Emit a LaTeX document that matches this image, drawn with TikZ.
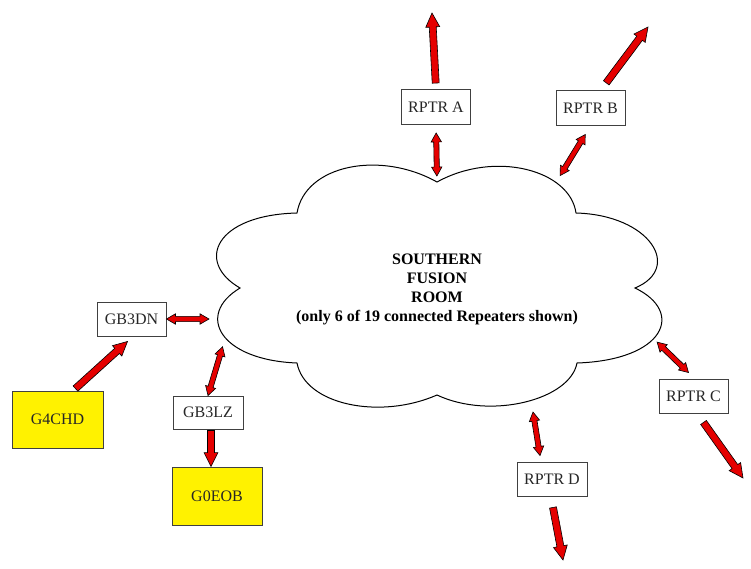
\documentclass[tikz,border=0pt]{standalone}
\usepackage{fontspec}
\setmainfont{Liberation Serif}
\usetikzlibrary{calc}

% fat outlined arrows: \onearrow{from}{to}, \twoarrow{end}{end}
\newcommand{\onearrow}[2]{%
  \path #1 coordinate (fa s) #2 coordinate (fa e);
  \coordinate (fa h) at ($(fa e)!14pt!(fa s)$);
  \filldraw[fatarrow] ($(fa s)!3.5pt!90:(fa e)$) -- ($(fa h)!3.5pt!-90:(fa s)$)
    -- ($(fa h)!7pt!-90:(fa s)$) -- (fa e) -- ($(fa h)!7pt!90:(fa s)$)
    -- ($(fa h)!3.5pt!90:(fa s)$) -- ($(fa s)!3.5pt!-90:(fa e)$) -- cycle;}
\newcommand{\twoarrow}[2]{%
  \path #1 coordinate (fa s) #2 coordinate (fa e);
  \coordinate (fa h1) at ($(fa s)!9pt!(fa e)$);
  \coordinate (fa h2) at ($(fa e)!9pt!(fa s)$);
  \filldraw[fatarrow] (fa s) -- ($(fa h1)!5.2pt!-90:(fa s)$) -- ($(fa h1)!2.6pt!-90:(fa s)$)
    -- ($(fa h2)!2.6pt!-90:(fa s)$) -- ($(fa h2)!5.2pt!-90:(fa s)$) -- (fa e)
    -- ($(fa h2)!5.2pt!90:(fa s)$) -- ($(fa h2)!2.6pt!90:(fa s)$)
    -- ($(fa h1)!2.6pt!90:(fa s)$) -- ($(fa h1)!5.2pt!90:(fa s)$) -- cycle;}

\begin{document}
\begin{tikzpicture}[x=1pt, y=-1pt,
    rptr/.style={draw=black!75, line width=0.9pt, fill=white, minimum width=69pt,
      minimum height=35pt, inner sep=0pt, font=\fontsize{16}{19}\selectfont, text=black!85},
    station/.style={rptr, fill=yellow, minimum width=91pt, minimum height=57pt},
    fatarrow/.style={fill=red!90!black, draw=black, line width=0.6pt, line join=miter},
    roomtext/.style={align=center, font=\fontsize{16}{19}\selectfont\bfseries}
]
\useasboundingbox (0,0) rectangle (751,568);

% Cloud
\coordinate (c1) at (437,182);
\coordinate (c2) at (576,213);
\coordinate (c3) at (635,288);
\coordinate (c4) at (577,363);
\coordinate (c5) at (437,395);
\coordinate (c6) at (297,363);
\coordinate (c7) at (240,288);
\coordinate (c8) at (297,213);
\draw[line width=1pt, line join=miter] (c1) .. controls (495,150) and (570,170) .. (c2)
  .. controls (650,215) and (683,268) .. (c3)
  .. controls (685,312) and (665,360) .. (c4)
  .. controls (570,400) and (490,420) .. (c5)
  .. controls (380,420) and (305,405) .. (c6)
  .. controls (220,360) and (195,315) .. (c7)
  .. controls (195,262) and (215,215) .. (c8)
  .. controls (305,165) and (380,150) .. (c1) -- cycle;
\node[roomtext] (room) at (437,289) {SOUTHERN\\FUSION\\ROOM\\(only 6 of 19 connected Repeaters shown)};

% points on the cloud edge
\coordinate (cb) at (558,179);
\coordinate (cl) at (209,319);
\coordinate (cz) at (224,342);
\coordinate (cc) at (655,340);
\coordinate (cd) at (532,403);

% Repeaters and stations
\node[rptr] (rptra) at (436,107) {RPTR A};
\node[rptr] (rptrb) at (590.5,108) {RPTR B};
\node[rptr, minimum height=34pt] (rptrc) at (693.5,396) {RPTR C};
\node[rptr, minimum height=34pt, minimum width=70pt] (rptrd) at (552,479) {RPTR D};
\node[rptr, minimum height=34pt] (gb3dn) at (131.5,319) {GB3DN};
\node[rptr, minimum height=33pt, minimum width=70pt] (gb3lz) at (208,412.5) {GB3LZ};
\node[station] (g4chd) at (57.5,419.5) {G4CHD};
\node[station, minimum width=90pt, minimum height=58pt] (g0eob) at (217,496) {G0EOB};

% free ends
\coordinate (outa) at (432,13);
\coordinate (outb) at (648,27);
\coordinate (outc) at (743,478);
\coordinate (outd) at (563,560);

% Links
\onearrow{($(rptra.north)!6pt!(outa)$)}{(outa)}
\onearrow{($(rptrb.60)!9pt!(outb)$)}{(outb)}
\twoarrow{($(rptra.south)!8pt!(c1)$)}{($(c1)!6pt!(rptra.south)$)}
\twoarrow{($(rptrb.south)!10pt!(cb)$)}{($(cb)!4pt!(rptrb.south)$)}
\twoarrow{(gb3dn.east)}{(cl)}
\onearrow{($(g4chd.north)+(18,-2)$)}{($(gb3dn.south)+(-4,5)$)}
\twoarrow{($(cz)!5pt!(gb3lz.north)$)}{(gb3lz.north)}
\onearrow{($(gb3lz.south)+(3,1)$)}{($(g0eob.north)+(-6,0)$)}
\twoarrow{($(cc)!3pt!(rptrc.north)$)}{($(rptrc.north)+(-5,-6)$)}
\onearrow{($(rptrc.south)+(10,9)$)}{(outc)}
\twoarrow{($(cd)+(1,9)$)}{($(rptrd.north)+(-12,-6)$)}
\onearrow{($(rptrd.south)+(1,11)$)}{(outd)}

\end{tikzpicture}
\end{document}
